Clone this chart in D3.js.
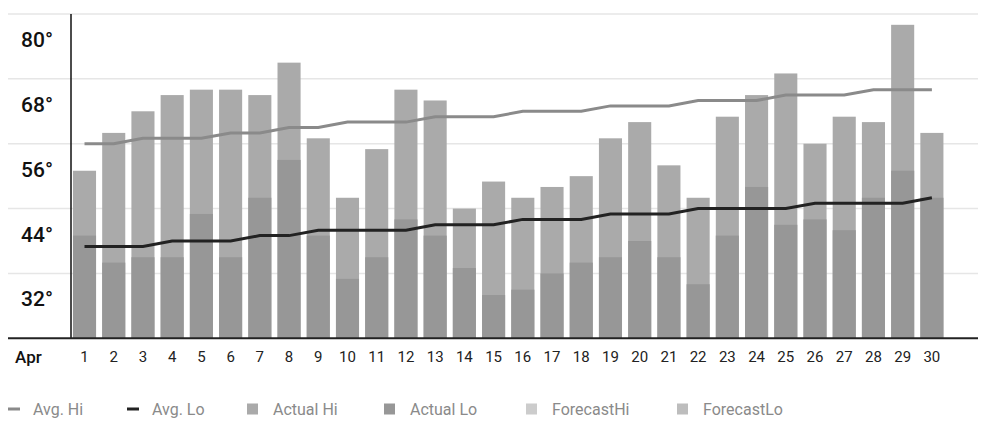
<!DOCTYPE html>
<html>
<head>
<meta charset="utf-8">
<script src="https://cdn.jsdelivr.net/npm/d3@7"></script>
<style>
  html, body { margin: 0; padding: 0; background: #fff; }
  svg { display: block; font-family: Roboto, "Noto Sans", sans-serif; }
</style>
</head>
<body>
<svg id="chart" width="981" height="423"></svg>
<script>
// April daily temperatures (°F)
const days = d3.range(1, 31);
const actualHi = [51, 58, 62, 65, 66, 66, 65, 71, 57, 46, 55, 66, 64, 44, 49, 46, 48, 50, 57, 60, 52, 46, 61, 65, 69, 56, 61, 60, 78, 58];
const actualLo = [39, 34, 35, 35, 43, 35, 46, 53, 39, 31, 35, 42, 39, 33, 28, 29, 32, 34, 35, 38, 35, 30, 39, 48, 41, 42, 40, 46, 51, 46];
const forecastHi = days.map(() => null);
const forecastLo = days.map(() => null);
const avgHi = [56, 56, 57, 57, 57, 58, 58, 59, 59, 60, 60, 60, 61, 61, 61, 62, 62, 62, 63, 63, 63, 64, 64, 64, 65, 65, 65, 66, 66, 66];
const avgLo = [37, 37, 37, 38, 38, 38, 39, 39, 40, 40, 40, 40, 41, 41, 41, 42, 42, 42, 43, 43, 43, 44, 44, 44, 44, 45, 45, 45, 45, 46];
const yTicks = [32, 44, 56, 68, 80];
const monthLabel = "Apr";
const legendItems = [
  { name: "Avg. Hi", kind: "line", color: "#8a8a8a" },
  { name: "Avg. Lo", kind: "line", color: "#222222" },
  { name: "Actual Hi", kind: "box", color: "#aaaaaa" },
  { name: "Actual Lo", kind: "box", color: "#979797" },
  { name: "ForecastHi", kind: "box", color: "#cccccc" },
  { name: "ForecastLo", kind: "box", color: "#bdbdbd" }
];
const legendX = [8, 127, 247, 384, 526, 677];

const svg = d3.select("#chart");
const plotLeft = 71, plotRight = 978, plotTop = 14, plotBottom = 338.3;

const x = d3.scaleBand()
  .domain(days)
  .range([69.9, 946.5])
  .paddingInner(0.21)
  .paddingOuter(0.105);

const y = d3.scaleLinear().domain([20, 80]).range([plotBottom, plotTop]);

// horizontal grid lines
svg.append("g")
  .selectAll("line")
  .data(yTicks)
  .join("line")
  .attr("x1", 8).attr("x2", plotRight)
  .attr("y1", d => y(d)).attr("y2", d => y(d))
  .attr("stroke", "#e6e6e6").attr("stroke-width", 1.5);

// y tick labels sit just below their grid line
svg.append("g")
  .selectAll("text")
  .data(yTicks)
  .join("text")
  .attr("x", 53).attr("y", d => y(d) + 26)
  .attr("text-anchor", "end")
  .attr("dominant-baseline", "central")
  .attr("font-size", 21).attr("font-weight", 500)
  .attr("fill", "#111")
  .text(d => d + "°");

const bars = svg.append("g");
const drawBars = (vals, color) => bars.append("g")
  .selectAll("rect")
  .data(days.map((d, i) => ({ d, v: vals[i] })).filter(o => o.v != null))
  .join("rect")
  .attr("x", o => x(o.d))
  .attr("width", x.bandwidth())
  .attr("y", o => y(o.v))
  .attr("height", o => y(20) - y(o.v))
  .attr("fill", color);

drawBars(actualHi, legendItems[2].color);
drawBars(forecastHi, legendItems[4].color);
drawBars(actualLo, legendItems[3].color);
drawBars(forecastLo, legendItems[5].color);

const line = d3.line()
  .x((v, i) => x(days[i]) + x.bandwidth() / 2)
  .y(v => y(v));

svg.append("path").datum(avgHi)
  .attr("d", line).attr("fill", "none")
  .attr("stroke", legendItems[0].color).attr("stroke-width", 3);
svg.append("path").datum(avgLo)
  .attr("d", line).attr("fill", "none")
  .attr("stroke", legendItems[1].color).attr("stroke-width", 3);

// axes lines
svg.append("line")
  .attr("x1", plotLeft).attr("x2", plotLeft).attr("y1", plotTop).attr("y2", plotBottom)
  .attr("stroke", "#111").attr("stroke-width", 1.5);
svg.append("line")
  .attr("x1", 8).attr("x2", plotRight).attr("y1", plotBottom).attr("y2", plotBottom)
  .attr("stroke", "#222").attr("stroke-width", 2);

// x labels
svg.append("text")
  .attr("x", 15).attr("y", 357)
  .attr("dominant-baseline", "central")
  .attr("font-size", 17).attr("font-weight", 500).attr("fill", "#111")
  .text(monthLabel);
svg.append("g")
  .selectAll("text")
  .data(days)
  .join("text")
  .attr("x", d => x(d) + x.bandwidth() / 2)
  .attr("y", 357)
  .attr("text-anchor", "middle")
  .attr("dominant-baseline", "central")
  .attr("font-size", 15).attr("fill", "#222")
  .text(d => d);

// legend
const lg = svg.append("g")
  .selectAll("g")
  .data(legendItems)
  .join("g")
  .attr("transform", (d, i) => `translate(${legendX[i]},409)`);
lg.filter(d => d.kind === "line").append("rect")
  .attr("x", 0).attr("y", -1.5).attr("width", 12).attr("height", 3)
  .attr("fill", d => d.color);
lg.filter(d => d.kind === "box").append("rect")
  .attr("x", 0).attr("y", -5.5).attr("width", 11).attr("height", 11)
  .attr("fill", d => d.color);
lg.append("text")
  .attr("x", (d, i) => d.kind === "line" ? 25 : 26)
  .attr("dominant-baseline", "central")
  .attr("font-size", 16).attr("fill", "#8a8a8a")
  .text(d => d.name);
</script>
</body>
</html>
